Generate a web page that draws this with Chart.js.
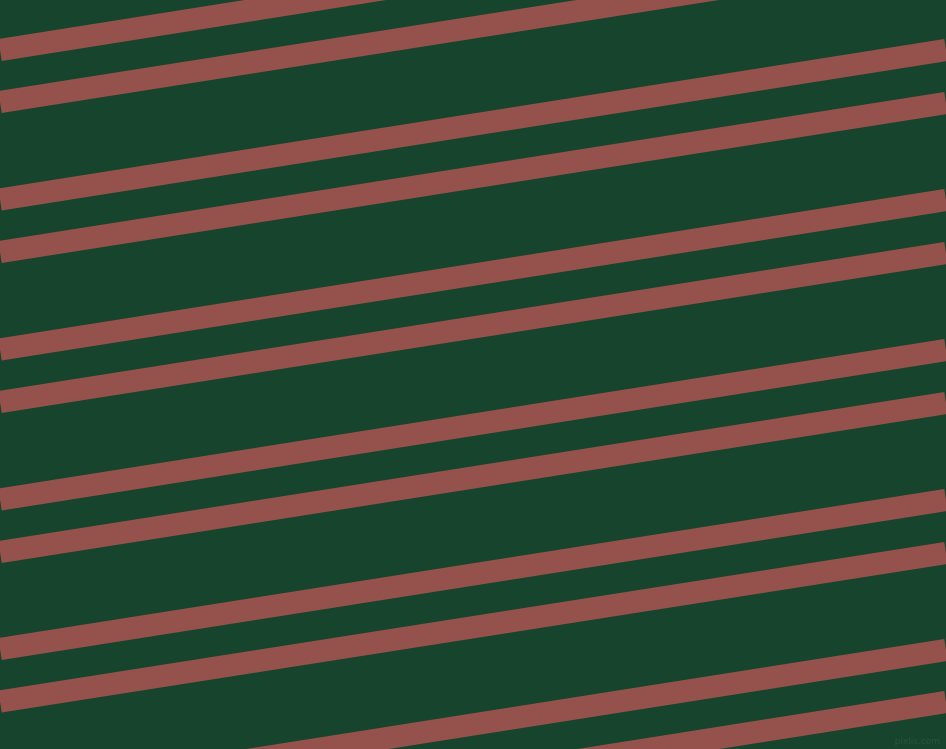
<!DOCTYPE html>
<html>
<head>
<meta charset="utf-8">
<script src="https://cdn.jsdelivr.net/npm/chart.js@4/dist/chart.umd.min.js"></script>
<style>
  html, body { margin: 0; padding: 0; background: #17442c; overflow: hidden; }
  #stripes { display: block; }
</style>
</head>
<body>
<canvas id="stripes" width="946" height="749"></canvas>
<script>
// extremos de cada franja: y en el borde izquierdo (x=0) y en el derecho (x=946)
const stripeLeftY  = [50, 102, 199.5, 252, 349.5, 402, 499.5, 552, 649, 701.5, 799, 851.5];
const stripeRightY = [-100, -47, 50, 103, 200, 253, 350, 403, 500, 553, 650, 702];
const xEnds = [0, 946];

const fondo = '#17442c';
const colorFranja = '#95514c';

// pinta el fondo y la marca de agua
const fondoPlugin = {
    id: 'fondo',
    beforeDraw(chart) {
        const ctx = chart.ctx;
        ctx.save();
        ctx.fillStyle = fondo;
        ctx.fillRect(0, 0, chart.width, chart.height);
        ctx.restore();
    },
    afterDraw(chart) {
        const ctx = chart.ctx;
        ctx.save();
        ctx.font = '9px "DejaVu Sans"';
        ctx.fillStyle = 'rgba(255,255,255,0.08)';
        ctx.textAlign = 'right';
        ctx.textBaseline = 'bottom';
        ctx.fillText('pixlis.com', chart.width - 6, chart.height - 3);
        ctx.restore();
    }
};

const datasets = stripeLeftY.map((y0, i) => ({
    data: [{ x: xEnds[0], y: y0 }, { x: xEnds[1], y: stripeRightY[i] }],
    borderColor: colorFranja,
    borderWidth: 22.2,
    borderCapStyle: 'butt',
    pointRadius: 0,
    tension: 0,
    fill: false
}));

new Chart(document.getElementById('stripes').getContext('2d'), {
    type: 'line',
    data: { datasets },
    options: {
        responsive: false,
        devicePixelRatio: 1,
        animation: false,
        layout: { padding: 0 },
        plugins: { legend: { display: false }, tooltip: { enabled: false } },
        scales: {
            x: { type: 'linear', min: 0, max: 946, display: false },
            y: { type: 'linear', min: 0, max: 749, reverse: true, display: false }
        }
    },
    plugins: [fondoPlugin]
});
</script>
</body>
</html>
